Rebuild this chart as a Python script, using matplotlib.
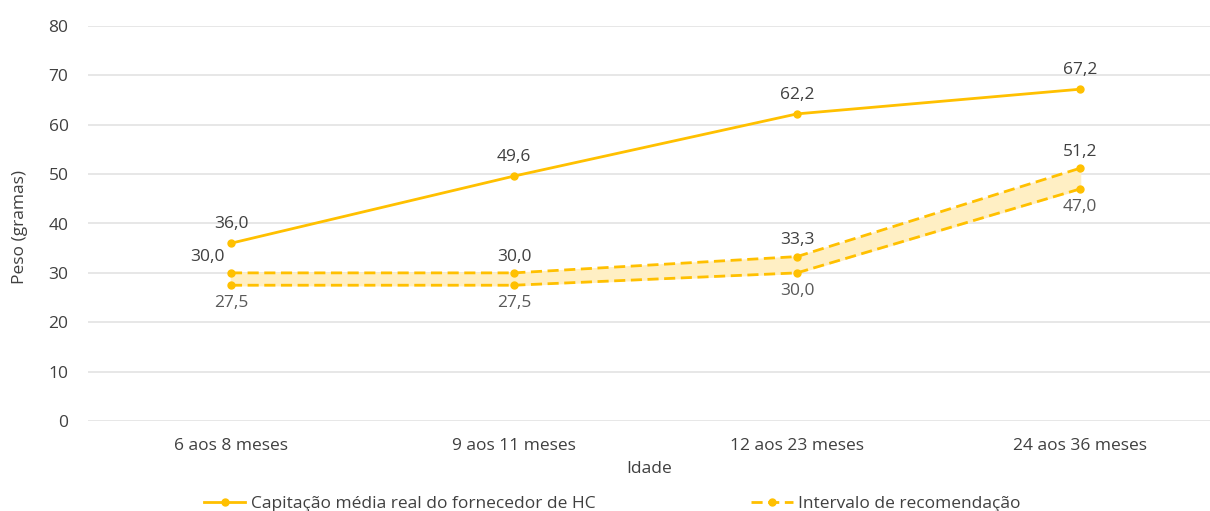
import matplotlib.pyplot as plt

plt.rcParams['font.family'] = ['Open Sans', 'DejaVu Sans']

idades = ["6 aos 8 meses", "9 aos 11 meses", "12 aos 23 meses", "24 aos 36 meses"]
capitacao = [36.0, 49.6, 62.2, 67.2]
rec_max = [30.0, 30.0, 33.3, 51.2]
rec_min = [27.5, 27.5, 30.0, 47.0]

gold = "#FFC000"
txt = "#404040"
txt_light = "#595959"
fs = 12.5

fig = plt.figure(figsize=(12.10, 5.11), dpi=100)
ax = fig.add_axes([88 / 1210, 1 - 421 / 511, 1 - 88 / 1210, (421 - 26) / 511])

x = list(range(len(idades)))

ax.fill_between(x, rec_min, rec_max, color="#FFEFC4", zorder=1)
ax.plot(x, capitacao, color=gold, lw=2, marker="o", ms=5, zorder=3,
        label="Capitação média real do fornecedor de HC")
ax.plot(x, rec_max, color=gold, lw=2, ls=(0, (4, 2)), marker="o", ms=5, zorder=3,
        label="Intervalo de recomendação")
ax.plot(x, rec_min, color=gold, lw=2, ls=(0, (4, 2)), marker="o", ms=5, zorder=3)

def fmt(v):
    return f"{v:.1f}".replace(".", ",")

for i, v in enumerate(capitacao):
    ax.annotate(fmt(v), (i, v), xytext=(0, 8), textcoords="offset points",
                ha="center", va="bottom", fontsize=fs, color=txt)
for i, v in enumerate(rec_max):
    dx = -17 if i == 0 else 0
    ax.annotate(fmt(v), (i, v), xytext=(dx, 6), textcoords="offset points",
                ha="center", va="bottom", fontsize=fs, color=txt)
for i, v in enumerate(rec_min):
    ax.annotate(fmt(v), (i, v), xytext=(0, -7), textcoords="offset points",
                ha="center", va="top", fontsize=fs, color=txt_light)

ax.set_xlim(-0.505, 3.459)
ax.set_ylim(0, 80)
ax.set_yticks(range(0, 81, 10))
ax.set_xticks(x)
ax.set_xticklabels(idades)
ax.grid(axis="y", color="#E3E3E3", lw=1.2)
ax.set_axisbelow(True)
for s in ax.spines.values():
    s.set_visible(False)
ax.tick_params(length=0, labelsize=fs, colors=txt, pad=14)
ax.tick_params(axis="x", pad=12)

ax.set_xlabel("Idade", fontsize=fs, color=txt, labelpad=5)
ax.set_ylabel("Peso (gramas)", fontsize=fs, color=txt)
ax.yaxis.set_label_coords(-60 / 1122, 0.49)

fig.legend(loc="center", bbox_to_anchor=(0.506, 1 - 504 / 511), ncol=2,
           frameon=False, fontsize=fs, labelcolor=txt, columnspacing=9,
           handlelength=2.4, handletextpad=0.3)

fig.savefig("out.png", dpi=100)
